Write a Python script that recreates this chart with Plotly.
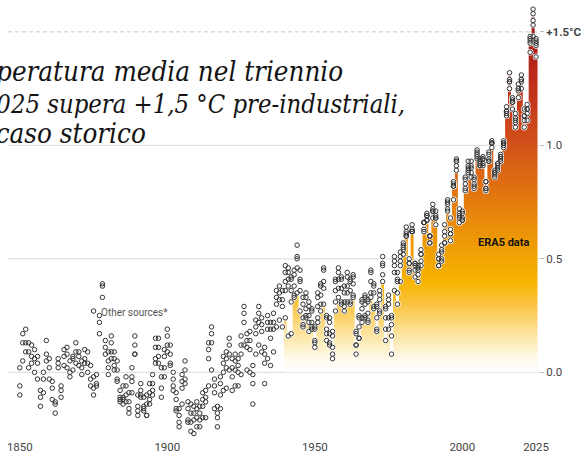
import plotly.graph_objects as go

# ---------------- data (anomaly vs 1850-1900, °C) ----------------
years = list(range(1850, 2026))
gis_years = list(range(1880, 2026))
era5_years = list(range(1940, 2026))

hadcrut = [
    -0.06, 0.13, 0.13, 0.09, 0.07, 0.06, 0.04, -0.11, -0.03, 0.08,
    -0.03, -0.07, -0.18, 0.02, -0.11, 0.03, 0.02, 0.00, 0.01, 0.04,
    0.03, -0.01, 0.04, 0.04, -0.03, -0.07, -0.06, 0.22, 0.33, 0.11,
    0.05, 0.13, 0.06, 0.01, -0.13, -0.11, -0.06, -0.13, -0.02, 0.12,
    -0.15, -0.08, -0.15, -0.14, -0.09, -0.05, 0.11, 0.11, -0.02, 0.07,
    0.16, 0.08, -0.03, -0.12, -0.19, -0.04, 0.01, -0.16, -0.18, -0.18,
    -0.16, -0.18, -0.12, -0.11, 0.10, 0.17, -0.06, -0.18, -0.05, 0.04,
    0.06, 0.12, 0.02, 0.05, 0.03, 0.12, 0.26, 0.14, 0.14, -0.01,
    0.20, 0.26, 0.21, 0.08, 0.22, 0.19, 0.22, 0.33, 0.35, 0.32,
    0.44, 0.44, 0.41, 0.43, 0.56, 0.45, 0.30, 0.33, 0.29, 0.27,
    0.19, 0.33, 0.38, 0.45, 0.24, 0.22, 0.16, 0.41, 0.46, 0.41,
    0.35, 0.42, 0.40, 0.43, 0.17, 0.25, 0.32, 0.34, 0.31, 0.44,
    0.39, 0.29, 0.36, 0.51, 0.29, 0.34, 0.25, 0.51, 0.44, 0.53,
    0.56, 0.64, 0.48, 0.65, 0.48, 0.46, 0.52, 0.66, 0.70, 0.60,
    0.71, 0.68, 0.50, 0.53, 0.60, 0.74, 0.61, 0.84, 0.94, 0.72,
    0.71, 0.86, 0.93, 0.93, 0.86, 0.98, 0.94, 0.94, 0.84, 0.97,
    1.02, 0.89, 0.92, 0.96, 1.02, 1.17, 1.28, 1.19, 1.11, 1.24,
    1.28, 1.11, 1.14, 1.46, 1.53, 1.44,
]

noaa = [
    -0.10, 0.05, 0.09, 0.02, 0.12, 0.00, -0.03, -0.15, -0.09, 0.05,
    0.02, -0.12, -0.14, 0.06, -0.08, 0.07, 0.08, -0.02, 0.06, 0.09,
    0.07, 0.02, 0.06, 0.00, -0.06, -0.10, -0.01, 0.17, 0.38, 0.08,
    0.02, 0.09, 0.01, -0.04, -0.12, -0.14, -0.10, -0.16, -0.04, 0.08,
    -0.19, -0.11, -0.17, -0.19, -0.12, -0.08, 0.06, 0.07, -0.07, 0.02,
    0.12, 0.04, -0.08, -0.17, -0.22, -0.07, -0.03, -0.21, -0.22, -0.21,
    -0.20, -0.21, -0.15, -0.13, 0.06, 0.13, -0.09, -0.20, -0.10, 0.00,
    0.02, 0.08, -0.02, 0.01, 0.00, 0.08, 0.22, 0.11, 0.10, -0.05,
    0.17, 0.22, 0.18, 0.04, 0.19, 0.15, 0.19, 0.30, 0.32, 0.29,
    0.40, 0.41, 0.36, 0.38, 0.50, 0.41, 0.24, 0.28, 0.25, 0.22,
    0.14, 0.29, 0.34, 0.40, 0.19, 0.17, 0.11, 0.36, 0.41, 0.37,
    0.31, 0.38, 0.36, 0.39, 0.12, 0.20, 0.28, 0.30, 0.26, 0.40,
    0.35, 0.24, 0.32, 0.47, 0.24, 0.30, 0.21, 0.47, 0.40, 0.49,
    0.52, 0.60, 0.44, 0.62, 0.45, 0.43, 0.49, 0.63, 0.67, 0.57,
    0.68, 0.65, 0.47, 0.50, 0.57, 0.71, 0.58, 0.82, 0.91, 0.69,
    0.68, 0.83, 0.90, 0.90, 0.83, 0.95, 0.91, 0.91, 0.81, 0.94,
    0.99, 0.86, 0.89, 0.93, 0.99, 1.13, 1.25, 1.16, 1.08, 1.21,
    1.25, 1.08, 1.11, 1.41, 1.48, 1.39,
]

berkeley = [
    0.02, 0.17, 0.19, 0.13, 0.04, 0.10, 0.07, -0.08, 0.00, 0.14,
    0.06, -0.04, -0.13, 0.04, -0.06, 0.10, 0.11, 0.05, 0.07, 0.13,
    0.09, 0.05, 0.10, 0.09, 0.03, -0.02, -0.05, 0.25, 0.39, 0.14,
    0.09, 0.16, 0.09, 0.05, -0.08, -0.06, -0.02, -0.09, 0.02, 0.16,
    -0.10, -0.05, -0.11, -0.10, -0.05, -0.01, 0.15, 0.15, 0.02, 0.10,
    0.19, 0.12, 0.00, -0.09, -0.16, -0.01, 0.05, -0.13, -0.14, -0.15,
    -0.13, -0.15, -0.09, -0.08, 0.13, 0.20, -0.03, -0.15, -0.02, 0.07,
    0.09, 0.15, 0.06, 0.08, 0.06, 0.16, 0.29, 0.17, 0.18, 0.03,
    0.23, 0.29, 0.24, 0.11, 0.25, 0.22, 0.26, 0.36, 0.38, 0.36,
    0.47, 0.46, 0.42, 0.45, 0.51, 0.40, 0.33, 0.35, 0.31, 0.28,
    0.20, 0.35, 0.39, 0.46, 0.25, 0.24, 0.18, 0.40, 0.44, 0.42,
    0.38, 0.44, 0.41, 0.42, 0.18, 0.24, 0.31, 0.33, 0.32, 0.45,
    0.38, 0.30, 0.34, 0.48, 0.28, 0.32, 0.24, 0.49, 0.41, 0.51,
    0.55, 0.62, 0.48, 0.63, 0.47, 0.45, 0.52, 0.66, 0.69, 0.60,
    0.72, 0.69, 0.50, 0.54, 0.62, 0.75, 0.63, 0.83, 0.93, 0.70,
    0.70, 0.85, 0.91, 0.91, 0.85, 0.97, 0.93, 0.94, 0.84, 0.96,
    1.01, 0.88, 0.91, 0.95, 1.01, 1.15, 1.28, 1.19, 1.12, 1.25,
    1.29, 1.13, 1.16, 1.47, 1.58, 1.46,
]

gistemp = [
    -0.01, 0.06, 0.03, -0.03, -0.11, -0.12, -0.13, -0.18, -0.09, 0.08,
    -0.17, -0.10, -0.16, -0.19, -0.14, -0.10, 0.04, 0.04, -0.11, -0.02,
    0.09, 0.03, -0.06, -0.16, -0.24, -0.14, -0.05, -0.22, -0.26, -0.27,
    -0.24, -0.24, -0.20, -0.20, -0.06, 0.01, -0.16, -0.24, -0.16, -0.08,
    -0.07, 0.01, -0.08, -0.06, -0.06, -0.01, 0.12, 0.01, 0.00, -0.14,
    0.08, 0.12, 0.09, -0.05, 0.06, 0.03, 0.09, 0.20, 0.23, 0.20,
    0.36, 0.38, 0.31, 0.33, 0.46, 0.36, 0.20, 0.24, 0.18, 0.20,
    0.11, 0.24, 0.30, 0.37, 0.14, 0.12, 0.06, 0.31, 0.37, 0.31,
    0.27, 0.35, 0.30, 0.34, 0.08, 0.15, 0.24, 0.25, 0.22, 0.35,
    0.29, 0.19, 0.27, 0.43, 0.19, 0.24, 0.16, 0.44, 0.35, 0.47,
    0.54, 0.60, 0.45, 0.62, 0.42, 0.40, 0.47, 0.62, 0.67, 0.57,
    0.71, 0.68, 0.47, 0.49, 0.57, 0.72, 0.61, 0.76, 0.89, 0.68,
    0.67, 0.81, 0.89, 0.88, 0.82, 0.96, 0.91, 0.95, 0.81, 0.93,
    1.01, 0.88, 0.92, 0.95, 1.01, 1.15, 1.29, 1.20, 1.10, 1.25,
    1.29, 1.13, 1.16, 1.45, 1.55, 1.45,
]

era5 = [
    0.24, 0.16, 0.17, 0.34, 0.35, 0.27, 0.21, 0.25, 0.22, 0.19,
    0.13, 0.22, 0.27, 0.30, 0.17, 0.13, 0.08, 0.27, 0.33, 0.30,
    0.29, 0.31, 0.31, 0.33, 0.12, 0.15, 0.22, 0.24, 0.23, 0.33,
    0.28, 0.18, 0.26, 0.40, 0.14, 0.19, 0.08, 0.36, 0.30, 0.40,
    0.57, 0.61, 0.50, 0.62, 0.48, 0.47, 0.54, 0.66, 0.69, 0.60,
    0.74, 0.71, 0.52, 0.56, 0.65, 0.76, 0.68, 0.82, 0.93, 0.66,
    0.67, 0.80, 0.88, 0.86, 0.81, 0.94, 0.92, 0.92, 0.80, 0.93,
    1.01, 0.87, 0.90, 0.94, 1.00, 1.14, 1.32, 1.21, 1.14, 1.27,
    1.31, 1.16, 1.18, 1.48, 1.60, 1.47,
]

x_ticks = [1850, 1900, 1950, 2000, 2025]
y_ticks = [0.0, 0.5, 1.0, 1.5]
y_tick_text = ["0.0", "0.5", "1.0", "<b>+1.5°C</b>"]

legend_marker_x = [1875]
legend_marker_y = [0.27]

title_lines = [
    "La temperatura media nel triennio",
    "2023-2025 supera +1,5 °C pre-industriali,",
    "un caso storico",
]

# ---------------- figure ----------------
W, H = 582, 454
ML, MR, MT, MB = 8, 34, 0, 14
X_RANGE = [1846, 2026]
Y_RANGE = [-0.2895, 1.6404]

fig = go.Figure()

# ERA5 stepped area with vertical gradient
step_x = [era5_years[0] - 0.5] + era5_years + [era5_years[-1] + 0.5]
step_y = [era5[0]] + era5 + [era5[-1]]
fig.add_trace(go.Scatter(
    x=step_x, y=step_y, mode="lines", line=dict(shape="hvh", width=0),
    fill="tozeroy",
    fillgradient=dict(
        type="vertical", start=0, stop=1.62,
        colorscale=[
            [0.0, "rgb(255,255,255)"],
            [0.04, "rgb(255,250,236)"],
            [0.10, "rgb(253,231,168)"],
            [0.19, "rgb(249,195,64)"],
            [0.25, "rgb(247,180,0)"],
            [0.37, "rgb(236,150,8)"],
            [0.50, "rgb(224,114,16)"],
            [0.62, "rgb(210,82,26)"],
            [0.74, "rgb(196,56,28)"],
            [0.87, "rgb(176,32,24)"],
            [1.0, "rgb(148,12,14)"],
        ],
    ),
    hoverinfo="skip", showlegend=False,
))

all_x = years * 3 + gis_years + era5_years
all_y = hadcrut + noaa + berkeley + gistemp + era5

# white halo behind the rings
fig.add_trace(go.Scatter(
    x=all_x, y=all_y, mode="markers",
    marker=dict(symbol="circle", size=6.5, color="white", line=dict(width=0)),
    hoverinfo="skip", showlegend=False, cliponaxis=False,
))
ring = dict(symbol="circle-open", size=4.5, color="#333333", line=dict(width=1.0, color="#333333"))
fig.add_trace(go.Scatter(
    x=all_x, y=all_y, mode="markers", marker=ring,
    showlegend=False, cliponaxis=False,
))
# in-chart key marker
fig.add_trace(go.Scatter(
    x=legend_marker_x, y=legend_marker_y, mode="markers", marker=ring,
    showlegend=False, hoverinfo="skip",
))

# grid lines
shapes = []
for v in [0.0, 0.5, 1.0]:
    shapes.append(dict(type="line", xref="paper", x0=0, x1=1, yref="y", y0=v, y1=v,
                       line=dict(color="#dadada", width=1), layer="below"))
shapes.append(dict(type="line", xref="paper", x0=0, x1=1, yref="y", y0=1.5, y1=1.5,
                   line=dict(color="#c8c8c8", width=1, dash="4px,3px"), layer="below"))

plot_w = W - ML - MR
plot_h = H - MT - MB


def px_to_paper_x(px):
    return (px - ML) / plot_w


def px_to_paper_y(py):
    return 1 - (py - MT) / plot_h


title_family = "DejaVu Serif Condensed, DejaVu Serif, serif"
title_sizes = [27.5, 25.4, 27.5]
title_right = [351, 414, 150]
title_mid = [71, 104, 134]
annotations = []
for txt, sz, xr, ym in zip(title_lines, title_sizes, title_right, title_mid):
    annotations.append(dict(text=txt, xref="paper", yref="paper",
                            x=px_to_paper_x(xr), y=px_to_paper_y(ym),
                            xanchor="right", yanchor="middle", showarrow=False,
                            font=dict(family=title_family, size=sz, color="#141414", style="italic")))

annotations.append(dict(text="Other sources*", x=1877.0, y=0.265, xref="x", yref="y",
                        xanchor="left", yanchor="middle", showarrow=False,
                        font=dict(family="Liberation Sans Narrow, Roboto, sans-serif", size=10, color="#555")))
annotations.append(dict(text="<b>ERA5 data</b>", x=2014.0, y=0.57, xref="x", yref="y",
                        xanchor="center", yanchor="middle", showarrow=False,
                        font=dict(family="Liberation Sans Narrow, Roboto, sans-serif", size=11, color="#111",
                                  shadow="0 0 3px #f4a200, 0 0 3px #f4a200, 0 0 2px #f4a200")))

tick_font = dict(family="Liberation Sans Narrow, Roboto, sans-serif", size=11.5, color="#444")

fig.update_layout(
    width=W, height=H,
    margin=dict(l=ML, r=MR, t=MT, b=MB, pad=0),
    paper_bgcolor="white", plot_bgcolor="white",
    shapes=shapes, annotations=annotations,
    xaxis=dict(range=X_RANGE, tickvals=x_ticks, ticks="", showgrid=False,
               zeroline=False, showline=False, tickfont=tick_font, fixedrange=True),
    yaxis=dict(range=Y_RANGE, side="right", tickvals=y_ticks, ticktext=y_tick_text,
               ticks="outside", ticklen=4, tickcolor="#bdbdbd", showgrid=False,
               zeroline=False, showline=False, tickfont=tick_font, fixedrange=True),
    showlegend=False,
)

fig.write_html("out.html",
               config={"displayModeBar": False},
               post_script="document.body.style.margin='0';document.body.style.padding='0';"
                           "document.body.style.overflow='hidden';")
